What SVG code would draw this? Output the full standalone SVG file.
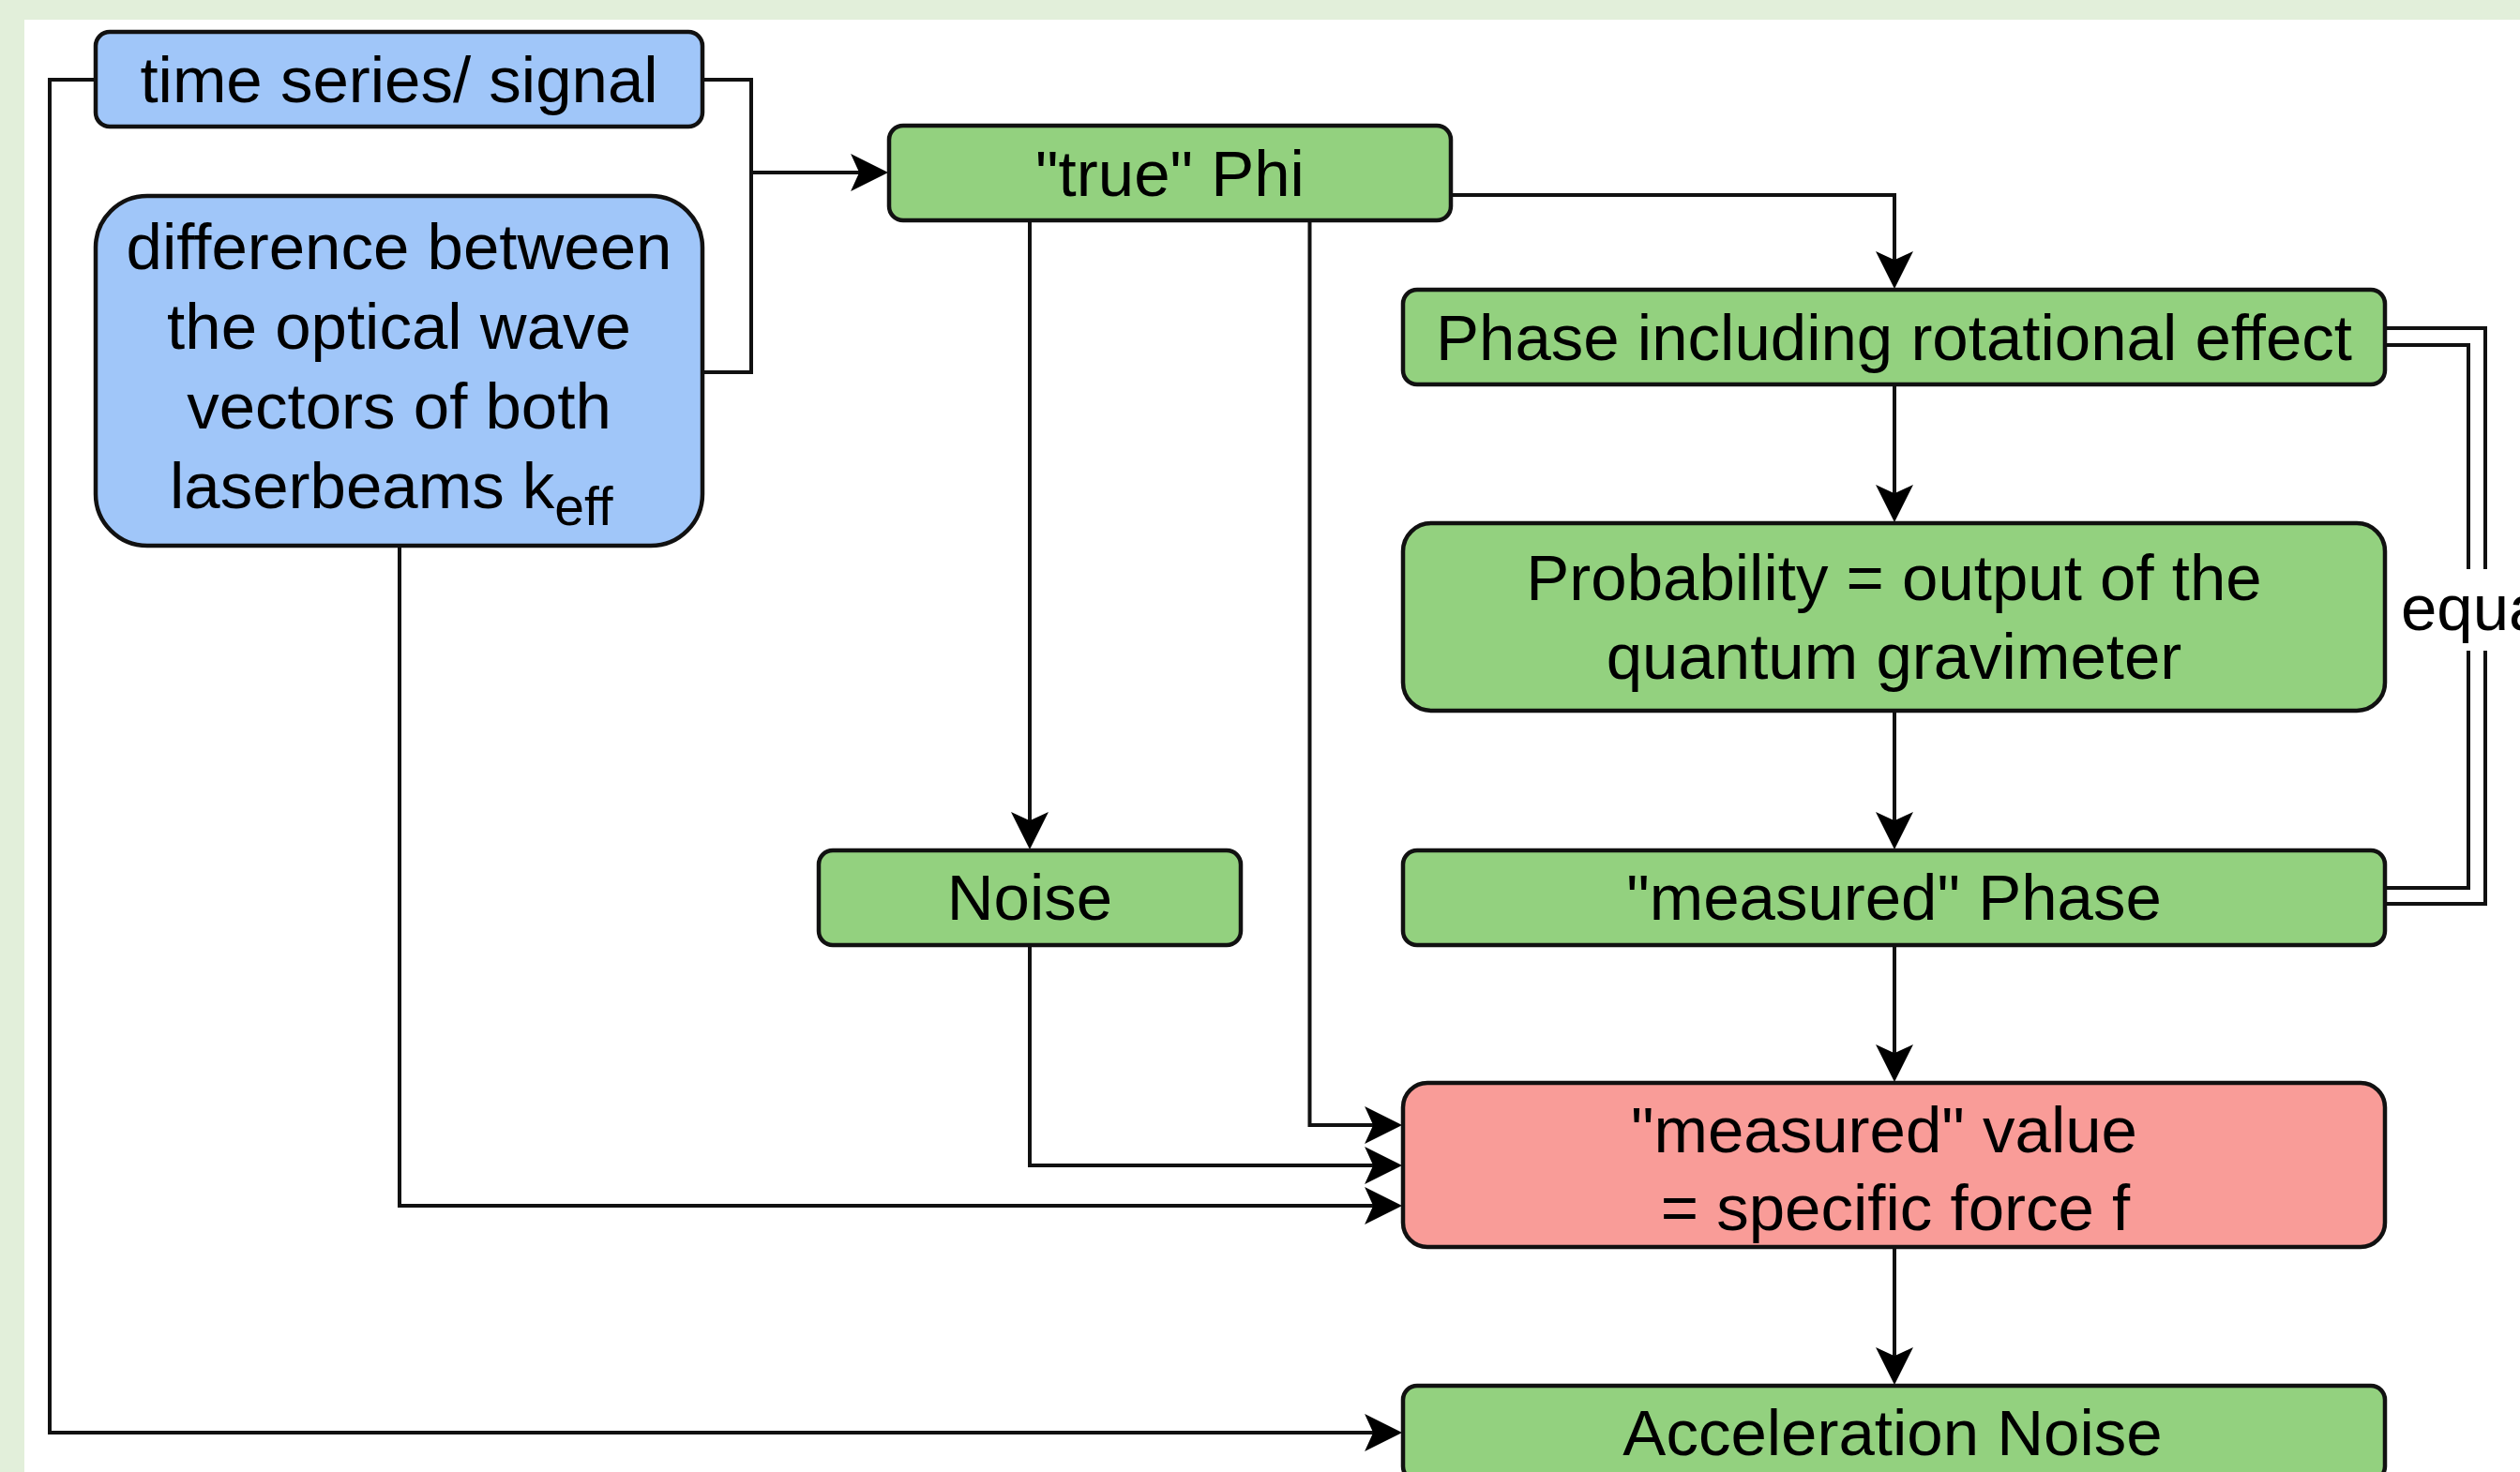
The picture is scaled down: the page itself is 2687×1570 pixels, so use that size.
<svg xmlns="http://www.w3.org/2000/svg" width="2687" height="1570" viewBox="0 0 2687 1570">
  <style>
    .node { stroke: #111; stroke-width: 4.5; }
    .blue { fill: #A0C6F9; }
    .green { fill: #93D17F; }
    .red { fill: #F99C98; }
    .lbl { font-family: "Liberation Sans", Arial, Helvetica, sans-serif; font-size: 69px; fill: #000; text-anchor: middle; }
    .edge { fill: none; stroke: #111; stroke-width: 4; }
    .arrow { marker-end: url(#head); }
  </style>
  <defs>
    <marker id="head" markerUnits="userSpaceOnUse" markerWidth="50" markerHeight="50" viewBox="-40 -25 55 50" refX="0" refY="0" orient="auto">
      <path d="M10,0 L-34,-22 L-24,0 L-34,22 Z" fill="#000"/>
    </marker>
  </defs>

  <!-- page background and canvas -->
  <rect x="0" y="0" width="2687" height="1570" fill="#E2EFDA"/>
  <rect x="26" y="21" width="2661" height="1549" fill="#FFFFFF"/>

  <!-- connectors -->
  <g id="connectors">
    <path class="edge arrow" d="M102,85 H53 V1528 H1486"/>
    <path class="edge" d="M749,85 H801 V397 H749"/>
    <path class="edge arrow" d="M801,184 H938"/>
    <path class="edge arrow" d="M1547,208 H2020 V299"/>
    <path class="edge arrow" d="M1098,235 V897"/>
    <path class="edge arrow" d="M1396.5,235 V1200 H1486"/>
    <path class="edge arrow" d="M1098,1008 V1243 H1486"/>
    <path class="edge arrow" d="M426,582 V1286 H1486"/>
    <path class="edge arrow" d="M2020,410 V548"/>
    <path class="edge arrow" d="M2020,758 V897"/>
    <path class="edge arrow" d="M2020,1008 V1145"/>
    <path class="edge arrow" d="M2020,1330 V1468"/>
    <!-- double "equal" link between the two phase boxes -->
    <g id="equal-link">
      <path class="edge" d="M2543,350 H2650 V964 H2543"/>
      <path class="edge" d="M2543,368 H2632 V947 H2543"/>
      <rect x="2556" y="607" width="131" height="87" fill="#FFFFFF"/>
      <text class="lbl" x="2560" y="672" style="text-anchor:start">equa</text>
    </g>
  </g>

  <!-- nodes -->
  <g id="time-series">
    <rect class="node blue" x="102" y="34" width="647" height="101" rx="15"/>
    <text class="lbl" x="425.5" y="109">time series/ signal</text>
  </g>
  <g id="keff">
    <rect class="node blue" x="102" y="209" width="647" height="373" rx="55"/>
    <text class="lbl" x="425.5" y="287">difference between</text>
    <text class="lbl" x="425.5" y="372">the optical wave</text>
    <text class="lbl" x="425.5" y="457">vectors of both</text>
    <text class="lbl" x="181" y="542" style="text-anchor:start">laserbeams k<tspan dy="18" font-size="57">eff</tspan></text>
  </g>
  <g id="true-phi">
    <rect class="node green" x="948" y="134" width="599" height="101" rx="15"/>
    <text class="lbl" x="1247.5" y="209">"true" Phi</text>
  </g>
  <g id="phase-rot">
    <rect class="node green" x="1496" y="309" width="1047" height="101" rx="15"/>
    <text class="lbl" x="2019.5" y="384">Phase including rotational effect</text>
  </g>
  <g id="probability">
    <rect class="node green" x="1496" y="558" width="1047" height="200" rx="30"/>
    <text class="lbl" x="2019.5" y="640">Probability = output of the</text>
    <text class="lbl" x="2019.5" y="724">quantum gravimeter</text>
  </g>
  <g id="noise">
    <rect class="node green" x="873" y="907" width="450" height="101" rx="15"/>
    <text class="lbl" x="1098" y="981">Noise</text>
  </g>
  <g id="measured-phase">
    <rect class="node green" x="1496" y="907" width="1047" height="101" rx="15"/>
    <text class="lbl" x="2019.5" y="981">"measured" Phase</text>
  </g>
  <g id="measured-value">
    <rect class="node red" x="1496" y="1155" width="1047" height="175" rx="26"/>
    <text class="lbl" x="2009" y="1229">"measured" value</text>
    <text class="lbl" x="2021" y="1312">= specific force f</text>
  </g>
  <g id="acceleration-noise">
    <rect class="node green" x="1496" y="1478" width="1047" height="101" rx="15"/>
    <text class="lbl" x="2018" y="1552">Acceleration Noise</text>
  </g>
</svg>
